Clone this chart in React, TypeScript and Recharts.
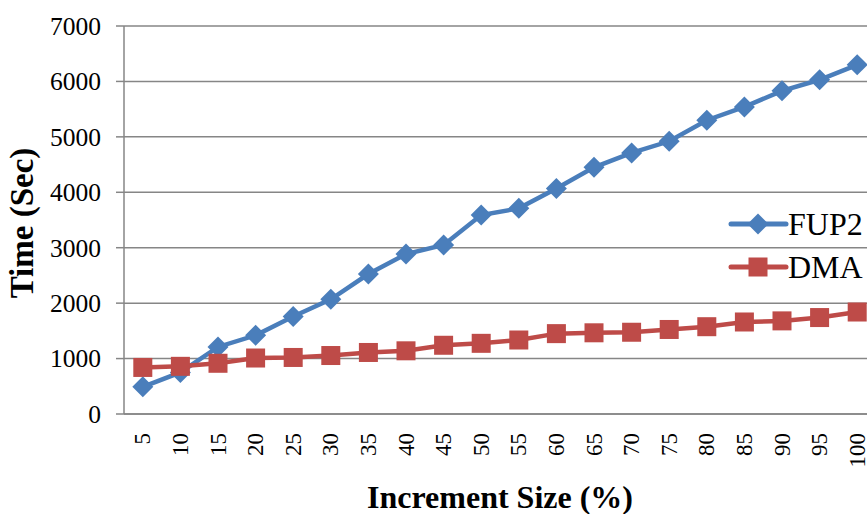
import React from "react";
import { LineChart, Line, XAxis, YAxis, CartesianGrid, Legend } from "recharts";

const sizes = [5, 10, 15, 20, 25, 30, 35, 40, 45, 50, 55, 60, 65, 70, 75, 80, 85, 90, 95, 100];
const fup2 = [490, 750, 1210, 1420, 1760, 2070, 2525, 2885, 3050, 3590, 3710, 4070, 4450, 4710, 4920, 5300, 5540, 5830, 6030, 6300];
const dma = [840, 860, 915, 1010, 1020, 1055, 1110, 1140, 1240, 1275, 1335, 1450, 1465, 1475, 1525, 1575, 1660, 1680, 1740, 1840];
const yTicks = [0, 1000, 2000, 3000, 4000, 5000, 6000, 7000];

const data = sizes.map((s, i) => ({ size: String(s), FUP2: fup2[i], DMA: dma[i] }));

const FONT = '"Liberation Serif", serif';
const BLUE = "#4a7ebb";
const RED = "#be4b48";
const GRID = "#868686";

const Diamond = (props: any) => {
  const { cx, cy, color } = props;
  if (cx == null || cy == null) return null;
  const r = 10.5;
  return <polygon points={`${cx},${cy - r} ${cx + r},${cy} ${cx},${cy + r} ${cx - r},${cy}`} fill={color} />;
};

const Square = (props: any) => {
  const { cx, cy, color } = props;
  if (cx == null || cy == null) return null;
  const s = 19;
  return <rect x={cx - s / 2} y={cy - s / 2} width={s} height={s} fill={color} />;
};

// category labels run bottom-to-top, ending just under the axis
const XTick = (props: any) => {
  const { x, y, payload } = props;
  return (
    <g transform={`translate(${x},${y + 17}) rotate(-90)`}>
      <text x={0} y={0} textAnchor="end" dominantBaseline="central" style={{ fontFamily: FONT, fontSize: 23 }} fill="#000">
        {payload.value}
      </text>
    </g>
  );
};

const YTick = (props: any) => {
  const { x, y, payload } = props;
  return (
    <text x={x} y={y} dy="0.35em" textAnchor="end" style={{ fontFamily: FONT, fontSize: 25.5 }} fill="#000">
      {payload.value}
    </text>
  );
};

const YTitle = (props: any) => {
  const vb = props.viewBox;
  const x = vb.x + 33;
  const y = vb.y + vb.height / 2 + 3;
  return (
    <text x={x} y={y} transform={`rotate(-90 ${x} ${y})`} textAnchor="middle" style={{ fontFamily: FONT, fontSize: 33, fontWeight: "bold" }} fill="#000">
      Time (Sec)
    </text>
  );
};

const XTitle = (props: any) => {
  const vb = props.viewBox;
  return (
    <text x={vb.x + vb.width / 2} y={508} textAnchor="middle" style={{ fontFamily: FONT, fontSize: 32, fontWeight: "bold" }} fill="#000">
      Increment Size (%)
    </text>
  );
};

const legendItems = [
  { name: "FUP2", color: BLUE, shape: "diamond" },
  { name: "DMA", color: RED, shape: "square" },
];

const renderLegend = () => (
  <svg width={160} height={90} style={{ display: "block", overflow: "visible" }}>
    {legendItems.map((it, i) => {
      const cy = 24 + i * 43;
      return (
        <g key={it.name}>
          <line x1={3} x2={58} y1={cy} y2={cy} stroke={it.color} strokeWidth={5} strokeLinecap="round" />
          {it.shape === "diamond" ? <Diamond cx={30} cy={cy} color={it.color} /> : <Square cx={30} cy={cy} color={it.color} />}
          <text x={60} y={cy + 11} style={{ fontFamily: FONT, fontSize: 32 }} fill="#000">
            {it.name}
          </text>
        </g>
      );
    })}
  </svg>
);

export default function App() {
  return (
    <div style={{ position: "absolute", left: 0, top: 0, width: 867, height: 514, overflow: "hidden", background: "#fff" }}>
      <LineChart width={890} height={514} data={data} margin={{ top: 26, right: 14, bottom: 0, left: 0 }}>
        <CartesianGrid vertical={false} stroke={GRID} strokeWidth={1.5} />
        <XAxis
          dataKey="size"
          height={100}
          padding={{ left: 18.8, right: 18.8 }}
          axisLine={{ stroke: GRID, strokeWidth: 1.5 }}
          tickLine={false}
          tickSize={0}
          tick={<XTick />}
          interval={0}
          label={<XTitle />}
        />
        <YAxis
          width={124}
          domain={[0, 7000]}
          ticks={yTicks}
          axisLine={{ stroke: GRID, strokeWidth: 1.5 }}
          tickLine={{ stroke: GRID, strokeWidth: 1.5 }}
          tickSize={8}
          tickMargin={15}
          tick={<YTick />}
          label={<YTitle />}
        />
        <Legend
          layout="vertical"
          align="center"
          verticalAlign="middle"
          content={renderLegend}
          wrapperStyle={{ position: "absolute", left: 728, top: 200, width: 160, height: 90 }}
        />
        <Line dataKey="FUP2" stroke={BLUE} strokeWidth={4.5} dot={<Diamond color={BLUE} />} activeDot={false} isAnimationActive={false} />
        <Line dataKey="DMA" stroke={RED} strokeWidth={4.5} dot={<Square color={RED} />} activeDot={false} isAnimationActive={false} />
      </LineChart>
    </div>
  );
}
